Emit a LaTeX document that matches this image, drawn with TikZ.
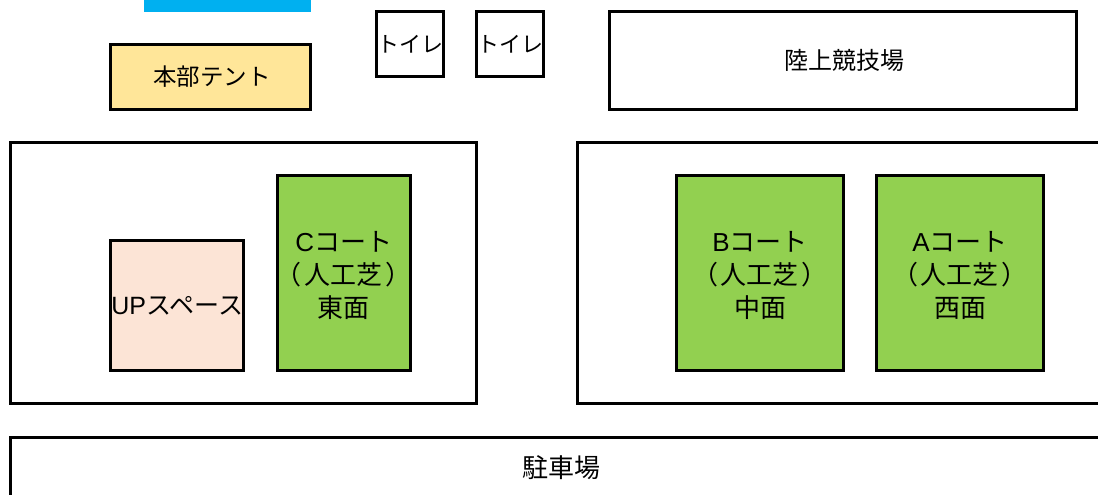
\documentclass[tikz,border=0pt]{standalone}
\usepackage{fontspec}
\setmainfont{Liberation Sans}
\newfontfamily\cjk{Noto Sans CJK JP}
\definecolor{skyc}{RGB}{0,176,240}
\definecolor{tentc}{RGB}{255,230,153}
\definecolor{upc}{RGB}{252,228,214}
\definecolor{grassc}{RGB}{146,208,80}
\newcommand{\fs}[1]{\fontsize{#1pt}{#1pt}\selectfont}
\newcommand{\turf}{\makebox[100pt][c]{（\kern3pt人工芝\kern3pt）}}
\newcommand{\lowerstrut}{\rule{0pt}{26pt}}
\tikzset{
 box/.style={draw=black,line width=3pt,inner sep=0pt,outer sep=0pt,align=center,anchor=north west,font=\cjk\fs{24}},
 court/.style={box,fill=grassc,minimum height=194.7pt,font=\cjk\fontsize{26pt}{33pt}\selectfont},
 wc/.style={box,minimum width=67pt,minimum height=65.3pt,font=\cjk\fs{22}},
}
\begin{document}
\begin{tikzpicture}[x=1pt,y=1pt]
\useasboundingbox (0,0) rectangle (1098,-495);
\begin{scope}
\clip (0,0) rectangle (1098,-495);
\fill[skyc] (144,0) rectangle (311,-12);
\node[box,fill=tentc,minimum width=199.5pt,minimum height=64.7pt,font=\cjk\fs{23.5}] (tent) at (110.8,-44.5) {\kern3pt本部テント};
\node[wc] (wc1) at (376.5,-11.5) {トイレ};
\node[wc] (wc2) at (476.5,-11.5) {トイレ};
\node[box,minimum width=467pt,minimum height=98pt] (track) at (609.5,-11.5) {\kern3pt陸上競技場};
\node[box,minimum width=466pt,minimum height=261pt] (east) at (10.5,-142.5) {};
\node[box,minimum width=560pt,minimum height=261pt] (west) at (577,-142.5) {};
\node[box,fill=upc,minimum width=132.7pt,minimum height=129.7pt,font=\cjk\fs{25}] (up) at (110.8,-240.5) {\makebox[120pt][c]{{\rmfamily UP}スペース}};
\node[court,minimum width=133pt] (c) at (277.2,-175.5) {\lowerstrut{\rmfamily C}コート\\\turf\\東面};
\node[court,minimum width=167pt] (b) at (676.5,-175.5) {\lowerstrut{\rmfamily B}コート\\\turf\\中面};
\node[court,minimum width=167pt] (a) at (876.5,-175.5) {\lowerstrut{\rmfamily A}コート\\\turf\\西面};
\node[box,minimum width=1140pt,minimum height=90pt] (park) at (10.5,-437) {};
\node[font=\cjk\fs{26}] (parklabel) at (561,-468) {駐車場};
\end{scope}
\end{tikzpicture}
\end{document}
